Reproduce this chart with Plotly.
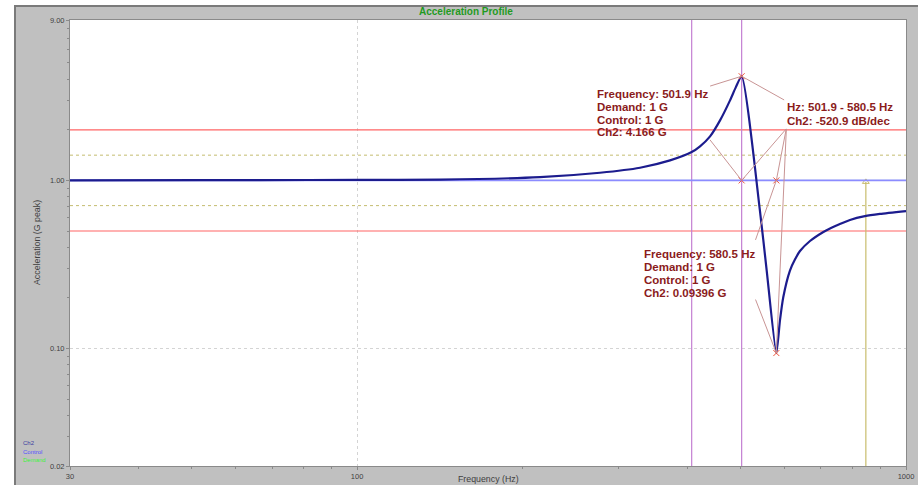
import math
import plotly.graph_objects as go

# ---------------- data ----------------
f_min, f_max = 30, 1000
y_min, y_max = 0.02, 9

ch2_freq = [30, 51.8, 66.5, 100, 141.6, 215.4, 277, 327.7, 371.7, 407, 421.5, 439.6,
            458.4, 478, 490.1, 501.9, 541.8, 557.5, 580.5, 589.4, 597.6, 614.6, 627.6,
            641, 668.5, 705.8, 727, 758, 790.5, 841.6, 896.5, 1000]
ch2_vals = [1.0, 1.003, 1.004, 1.007, 1.01, 1.046, 1.111, 1.19, 1.315, 1.474, 1.594, 1.828,
            2.276, 2.992, 3.6, 4.166, 0.663, 0.291, 0.09396, 0.147, 0.202, 0.291, 0.338,
            0.38, 0.436, 0.492, 0.518, 0.55, 0.582, 0.613, 0.632, 0.657]

demand_level = 1.0
abort_hi, abort_lo = 2.0, 0.5
alarm_hi, alarm_lo = 1.413, 0.708

cursor_freqs = [407, 501.9]
marker_freq = 845
marker_level = 0.98

peak_freq, peak_val = 501.9, 4.166
notch_freq, notch_val = 580.5, 0.09396
slope_text = "-520.9 dB/dec"

x_major = [30, 100, 1000]
x_major_text = ["30", "100", "1000"]
x_minor = [40, 50, 60, 70, 80, 90, 200, 300, 400, 500, 600, 700, 800, 900]
y_major = [0.02, 0.1, 1, 9]
y_major_text = ["0.02", "0.10", "1.00", "9.00"]
y_minor = [0.03, 0.04, 0.05, 0.06, 0.07, 0.08, 0.09,
           0.2, 0.3, 0.4, 0.5, 0.6, 0.7, 0.8, 0.9, 2, 3, 4, 5, 6, 7, 8]

# ---------------- styling ----------------
W, H = 918, 485
ML, MR, MT, MB = 70, 12, 20, 19
PW, PH = W - ML - MR, H - MT - MB
GRAY = "#c0c0c0"
TXT = "#404040"
LBL = "#8b1c1c"
LEAD = "#c89494"


def px(xp):
    return (xp - ML) / PW


def py(yp):
    return (H - MB - yp) / PH


fig = go.Figure()

span = [f_min, f_max]
# limit lines
for lvl in (alarm_hi, alarm_lo):
    fig.add_trace(go.Scatter(x=span, y=[lvl, lvl], mode="lines",
                             line=dict(color="#c4bc70", width=1, dash="dot"), hoverinfo="skip"))
for lvl in (abort_hi, abort_lo):
    fig.add_trace(go.Scatter(x=span, y=[lvl, lvl], mode="lines",
                             line=dict(color="#ff6464", width=1.2), hoverinfo="skip"))
# cursors
for cf in cursor_freqs:
    fig.add_trace(go.Scatter(x=[cf, cf], y=[y_min, y_max], mode="lines",
                             line=dict(color="#c47fd2", width=1.2), hoverinfo="skip"))
# marker line
fig.add_trace(go.Scatter(x=[marker_freq, marker_freq], y=[y_min, marker_level], mode="lines",
                         line=dict(color="#c8bc6c", width=1.2), hoverinfo="skip"))
fig.add_trace(go.Scatter(x=[marker_freq], y=[marker_level], mode="markers",
                         marker=dict(symbol="triangle-up-open", size=6, color="#c8bc6c",
                                     line=dict(width=1)), hoverinfo="skip"))
# demand / control
fig.add_trace(go.Scatter(x=span, y=[demand_level, demand_level], mode="lines",
                         line=dict(color="#40e040", width=0.6), hoverinfo="skip"))
fig.add_trace(go.Scatter(x=span, y=[demand_level, demand_level], mode="lines",
                         line=dict(color="#8c8cff", width=1.8), hoverinfo="skip"))
# Ch2
fig.add_trace(go.Scatter(x=ch2_freq, y=ch2_vals, mode="lines",
                         line=dict(color="#1c1c8e", width=2.2, shape="spline", smoothing=0.6),
                         hoverinfo="skip"))

# marked points
mx = [peak_freq, peak_freq, notch_freq, notch_freq]
my = [peak_val, demand_level, demand_level, notch_val]
fig.add_trace(go.Scatter(x=mx, y=my, mode="markers",
                         marker=dict(symbol="x-thin-open", size=6,
                                     line=dict(color="#c07878", width=1)),
                         hoverinfo="skip"))

ann = []
L = math.log10


def leader(fx, fy, ax, ay):
    ann.append(dict(x=L(fx), y=L(fy), xref="x", yref="y", text="", showarrow=True,
                    ax=ax, ay=ay, arrowhead=0, arrowwidth=1, arrowcolor=LEAD,
                    standoff=0, startstandoff=0, borderpad=0))


leader(peak_freq, peak_val, -32, 10)
leader(peak_freq, peak_val, 43, 24)
leader(peak_freq, demand_level, -32, -41)
leader(peak_freq, demand_level, 45, -52)
leader(notch_freq, demand_level, 10, -52)
leader(notch_freq, demand_level, -21, 60)
leader(notch_freq, notch_val, 10, -224)
leader(notch_freq, notch_val, -21, -54)


def label(fx, fy, dx, dy, text):
    ann.append(dict(x=L(fx), y=L(fy), xref="x", yref="y", text=text, showarrow=False,
                    xanchor="left", yanchor="middle", xshift=dx, yshift=dy,
                    font=dict(family="Arial, Liberation Sans", size=11.5, color=LBL)))


lab1 = [f"<b>Frequency: {peak_freq} Hz</b>", "<b>Demand: 1 G</b>", "<b>Control: 1 G</b>",
        f"<b>Ch2: {peak_val} G</b>"]
for i, t in enumerate(lab1):
    label(peak_freq, peak_val, -147, -17.7 - 12.8 * i, t)
lab_hz = [f"<b>Hz: {peak_freq} - {notch_freq} Hz</b>", f"<b>Ch2: {slope_text}</b>"]
for i, t in enumerate(lab_hz):
    label(peak_freq, peak_val, 43, -30.7 - 14.5 * i, t)
lab2 = [f"<b>Frequency: {notch_freq} Hz</b>", "<b>Demand: 1 G</b>", "<b>Control: 1 G</b>",
        f"<b>Ch2: {notch_val} G</b>"]
for i, t in enumerate(lab2):
    label(notch_freq, notch_val, -134, 99.3 - 13 * i, t)

# title & axis titles
ann.append(dict(x=px(466), y=py(12), xref="paper", yref="paper", showarrow=False,
                text="<b>Acceleration Profile</b>", xanchor="center", yanchor="middle",
                font=dict(family="Arial, Liberation Sans", size=10, color="#1f9a1f")))
ann.append(dict(x=px(488), y=py(479), xref="paper", yref="paper", showarrow=False,
                text="Frequency (Hz)", xanchor="center", yanchor="middle",
                font=dict(family="Arial, Liberation Sans", size=8.8, color=TXT)))
ann.append(dict(x=px(37), y=py(243), xref="paper", yref="paper", showarrow=False,
                text="Acceleration (G peak)", textangle=-90, xanchor="center", yanchor="middle",
                font=dict(family="Arial, Liberation Sans", size=8.8, color=TXT)))
# legend
legend_items = [("Ch2", "#3c3ca0"), ("Control", "#5050ff"), ("Demand", "#40f040")]
for i, (name, col) in enumerate(legend_items):
    ann.append(dict(x=px(21), y=py(443 + 8.5 * i), xref="paper", yref="paper", showarrow=False,
                    text=name, xanchor="left", yanchor="middle",
                    font=dict(family="Arial, Liberation Sans", size=6, color=col)))

shapes = [
    dict(type="rect", xref="paper", yref="paper", x0=px(-5), x1=px(14), y0=py(-5), y1=py(495),
         fillcolor="white", line=dict(width=0), layer="below"),
    dict(type="rect", xref="paper", yref="paper", x0=px(-5), x1=px(925), y0=py(-5), y1=py(5),
         fillcolor="white", line=dict(width=0), layer="below"),
    dict(type="rect", xref="paper", yref="paper", x0=px(15), x1=px(930), y0=py(6), y1=py(495),
         fillcolor="rgba(0,0,0,0)", line=dict(color="#7a7a7a", width=2), layer="below"),
]

axis_common = dict(type="log", showline=True, mirror=True, linecolor="#8a8a8a", linewidth=1,
                   ticks="outside", ticklen=3, tickcolor="#8a8a8a", tickmode="array",
                   showgrid=True, gridcolor="#d4d4d4", griddash="dot", gridwidth=1,
                   zeroline=False, automargin=False,
                   tickfont=dict(family="Arial, Liberation Sans", size=7.5, color=TXT))

fig.update_layout(
    width=W, height=H, margin=dict(l=ML, r=MR, t=MT, b=MB, autoexpand=False),
    paper_bgcolor=GRAY, plot_bgcolor="white", showlegend=False,
    xaxis=dict(range=[L(f_min), L(f_max)], tickvals=x_major, ticktext=x_major_text,
               minor=dict(tickmode="array", tickvals=x_minor, ticks="outside", ticklen=2,
                          tickcolor="#8a8a8a", showgrid=False), **axis_common),
    yaxis=dict(range=[L(y_min), L(y_max)], tickvals=y_major, ticktext=y_major_text,
               minor=dict(tickmode="array", tickvals=y_minor, ticks="outside", ticklen=2,
                          tickcolor="#8a8a8a", showgrid=False), **axis_common),
    annotations=ann, shapes=shapes,
)

fig.write_html("out.html", config={"displayModeBar": False},
               post_script="document.body.style.margin='0';document.body.style.overflow='hidden';")
